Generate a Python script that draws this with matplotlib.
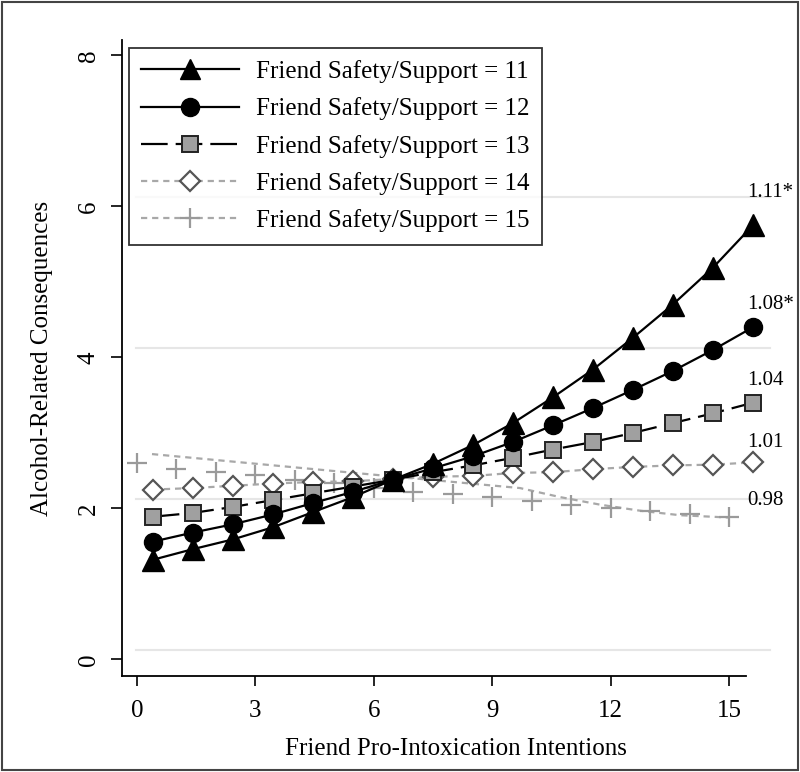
import matplotlib
matplotlib.use("Agg")
import matplotlib.pyplot as plt
from matplotlib.lines import Line2D
from matplotlib.patches import Rectangle

plt.rcParams['font.family'] = ['Liberation Serif', 'DejaVu Serif']

# -------------------------------------------------------------------
# Data
# -------------------------------------------------------------------
x_pts = [0.4, 1.41, 2.43, 3.44, 4.45, 5.47, 6.48, 7.49,
         8.51, 9.52, 10.53, 11.55, 12.56, 13.57, 14.59, 15.6]

y_s11 = [1.32, 1.46, 1.59, 1.75, 1.95, 2.15, 2.38, 2.59,
         2.84, 3.13, 3.47, 3.84, 4.26, 4.70, 5.19, 5.75]
y_s12 = [1.56, 1.68, 1.79, 1.92, 2.07, 2.22, 2.38, 2.53,
         2.69, 2.88, 3.10, 3.33, 3.57, 3.82, 4.10, 4.40]
y_s13 = [1.89, 1.94, 2.02, 2.11, 2.20, 2.29, 2.38, 2.48,
         2.57, 2.67, 2.78, 2.88, 3.00, 3.13, 3.26, 3.40]
y_s14 = [2.25, 2.27, 2.30, 2.33, 2.35, 2.36, 2.39, 2.42,
         2.43, 2.47, 2.48, 2.52, 2.55, 2.57, 2.58, 2.61]

# series 15: plus markers sit on integer x, its dashed line runs separately
x_s15_pts = [0, 1, 2, 3, 4, 5, 6, 7, 8, 9, 10, 11, 12, 13, 14, 15]
y_s15_pts = [2.60, 2.52, 2.48, 2.44, 2.38, 2.34, 2.27, 2.22,
             2.19, 2.15, 2.10, 2.05, 2.01, 1.97, 1.93, 1.89]
x_s15_line = [0.38, 5.52, 9.70, 10.72, 11.73, 12.74, 13.76, 14.97]
y_s15_line = [2.72, 2.47, 2.27, 2.15, 2.05, 1.97, 1.91, 1.88]

legend_labels = ["Friend Safety/Support = 11", "Friend Safety/Support = 12",
                 "Friend Safety/Support = 13", "Friend Safety/Support = 14",
                 "Friend Safety/Support = 15"]
irr_labels = ["1.11*", "1.08*", "1.04", "1.01", "0.98"]
irr_y = [6.18, 4.70, 3.70, 2.87, 2.11]

x_ticks = [0, 3, 6, 9, 12, 15]
y_ticks = [0, 2, 4, 6, 8]
grid_y = [0.13, 2.13, 4.13, 6.13]

# -------------------------------------------------------------------
# Figure
# -------------------------------------------------------------------
fig = plt.figure(figsize=(8.0, 7.72), dpi=100)
ax = fig.add_axes([0.1525, 0.1244, 0.835, 0.8238])
ax.set_xlim(-0.38, 16.54)
ax.set_ylim(-0.219, 8.205)

for gy in grid_y:
    ax.axhline(gy, xmin=0.021, xmax=0.97, color="#e6e6e6", lw=1.5, zorder=0)

lw = 1.6
light = "#a8a8a8"
dash13 = (0, (12, 3.6))
dash14 = (0, (2.8, 2.2))

# 15: dashed line + plus markers
ax.plot(x_s15_line, y_s15_line, color=light, lw=lw, ls=dash14, zorder=1)
ax.plot(x_s15_pts, y_s15_pts, ls="none", marker="+", ms=14, mew=1.6,
        color="#9a9a9a", zorder=1)

# 14: short dashed, open diamonds
ax.plot(x_pts, y_s14, color=light, lw=lw, ls=dash14,
        marker="D", ms=10, mfc="white", mec="#555555", mew=1.6, zorder=2)

# 13: long dashed, gray squares
ax.plot(x_pts, y_s13, color="black", lw=lw, ls=dash13,
        marker="s", ms=12, mfc="#a0a0a0", mec="#222222", mew=1.4, zorder=3)

# 12: solid, filled circles
ax.plot(x_pts, y_s12, color="black", lw=lw, marker="o", ms=13,
        mfc="black", mec="black", zorder=4)

# 11: solid, filled triangles
ax.plot(x_pts, y_s11, color="black", lw=lw, marker="^", ms=16,
        mfc="black", mec="black", zorder=5)

for lab, yy in zip(irr_labels, irr_y):
    ax.text(15.45, yy, lab, fontsize=15, ha="left", va="center")

# axes styling
ax.spines["top"].set_visible(False)
ax.spines["right"].set_visible(False)
ax.spines["left"].set_linewidth(1.3)
ax.spines["bottom"].set_linewidth(1.3)
ax.spines["bottom"].set_bounds(-0.38, 15.43)

ax.set_xticks(x_ticks)
ax.set_yticks(y_ticks)
ax.tick_params(axis="x", length=7, width=1.2, labelsize=18, pad=10)
ax.tick_params(axis="y", length=8, width=1.2, labelsize=18, pad=8)
for t in ax.get_yticklabels():
    t.set_rotation(90)
    t.set_va("center")

ax.set_xlabel("Friend Pro-Intoxication Intentions", fontsize=18, labelpad=12)
ax.set_ylabel("Alcohol-Related Consequences", fontsize=18, labelpad=18)

# legend
handles = [
    Line2D([], [], color="black", lw=lw, marker="^", ms=15, mfc="black"),
    Line2D([], [], color="black", lw=lw, marker="o", ms=13, mfc="black"),
    Line2D([], [], color="black", lw=lw, ls=dash13, marker="s", ms=12,
           mfc="#a0a0a0", mec="#222222", mew=1.4),
    Line2D([], [], color=light, lw=lw, ls=dash14, marker="D", ms=10,
           mfc="white", mec="#555555", mew=1.6),
    Line2D([], [], color=light, lw=lw, ls=dash14, marker="+", ms=14,
           mew=1.6, mec="#9a9a9a"),
]
leg = ax.legend(handles, legend_labels, loc="upper left",
                bbox_to_anchor=(0.01, 0.988), fontsize=18, frameon=True,
                fancybox=False, edgecolor="black", handlelength=3.9,
                handletextpad=0.68, labelspacing=0.57, borderpad=0.5,
                borderaxespad=0.0)
leg.get_frame().set_linewidth(1.3)

# outer frame around the whole figure
fig.patches.append(Rectangle((0.002, 0.003), 0.996, 0.995,
                             transform=fig.transFigure, fill=False,
                             edgecolor="#444444", lw=1.5))

fig.savefig("out.png", dpi=100)
